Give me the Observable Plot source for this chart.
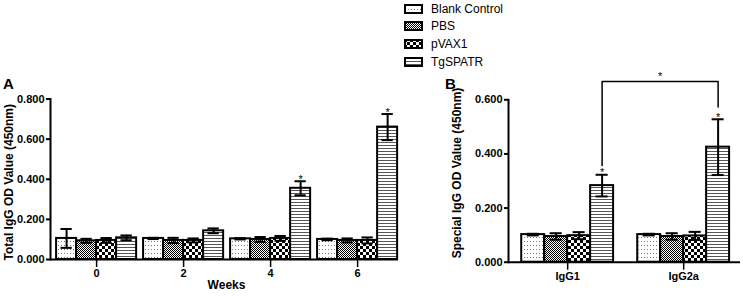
<!DOCTYPE html>
<html><head><meta charset="utf-8">
<script src="https://cdn.jsdelivr.net/npm/d3@7"></script>
<script src="https://cdn.jsdelivr.net/npm/@observablehq/plot@0.6"></script>
<style>
html,body{margin:0;padding:0;background:#fff;}
#root{position:relative;width:743px;height:297px;font-family:"Liberation Sans",Arial,sans-serif;overflow:hidden;color:#000;}
#root > .abs{position:absolute;}
.panel-letter{font-weight:bold;font-size:15px;line-height:1;z-index:3;}
.leg-row{position:absolute;display:flex;align-items:center;font-size:12px;white-space:nowrap;z-index:3;}
</style></head><body>
<svg width="0" height="0" style="position:absolute">
<defs>
<pattern id="pat-blank" width="3" height="4" patternUnits="userSpaceOnUse"><rect width="3" height="4" fill="#fff"/><rect x="1" y="1" width="1" height="1" fill="#777"/></pattern>
<pattern id="pat-pbs" width="2" height="2" patternUnits="userSpaceOnUse"><rect width="2" height="2" fill="#fff"/><rect width="1" height="1" fill="#000"/><rect x="1" y="1" width="1" height="1" fill="#000"/></pattern>
<pattern id="pat-pvax" width="6" height="6" patternUnits="userSpaceOnUse"><rect width="6" height="6" fill="#fff"/><rect width="3" height="3" fill="#000"/><rect x="3" y="3" width="3" height="3" fill="#000"/></pattern>
<pattern id="pat-tg" width="4" height="3" patternUnits="userSpaceOnUse"><rect width="4" height="3" fill="#fff"/><rect y="1" width="4" height="1" fill="#555"/></pattern>
</defs></svg>
<div id="root"></div>
<script>
// ---------- data ----------
const series = ["Blank Control", "PBS", "pVAX1", "TgSPATR"];

// Panel A: Total IgG by week
const weeks = ["0", "2", "4", "6"];
const blankA = [0.105, 0.105, 0.103, 0.100];
const pbsA   = [0.093, 0.095, 0.100, 0.095];
const pvaxA  = [0.095, 0.095, 0.105, 0.095];
const tgA    = [0.108, 0.143, 0.355, 0.660];
const blankAErr = [0.047, 0.003, 0.003, 0.004];
const pbsAErr   = [0.010, 0.013, 0.012, 0.010];
const pvaxAErr  = [0.012, 0.010, 0.012, 0.015];
const tgAErr    = [0.012, 0.012, 0.035, 0.065];
const sigA = ["", "", "*", "*"];
const yTicksA = [0, 0.2, 0.4, 0.6, 0.8];

// Panel B: IgG subclasses
const subclasses = ["IgG1", "IgG2a"];
const blankB = [0.102, 0.102];
const pbsB   = [0.095, 0.095];
const pvaxB  = [0.098, 0.097];
const tgB    = [0.283, 0.425];
const blankBErr = [0.003, 0.003];
const pbsBErr   = [0.012, 0.012];
const pvaxBErr  = [0.013, 0.015];
const tgBErr    = [0.040, 0.103];
const sigB = ["*", "*"];
const yTicksB = [0, 0.2, 0.4, 0.6];
const bracketY = [0.357, 0.668, 0.668, 0.573]; // IgG1 vs IgG2a comparison
const bracketSig = "*";

// ---------- styles ----------
const patternUrls = ["url(#pat-blank)", "url(#pat-pbs)", "url(#pat-pvax)", "url(#pat-tg)"];
const FONT = '"Liberation Sans", Arial, sans-serif';

function tidy(groups, means, errs, sig) {
  return groups.flatMap((g, gi) => series.map((s, si) => ({
    g: gi, si, series: s, mean: means[si][gi], err: errs[si][gi],
    sig: si === series.length - 1 ? sig[gi] : ""
  })));
}

function panel({rows, groups, xDomain, yDomain, yTicks, bw, cap, width, marginLeft, marginRight, marginTop, marginBottom, title, titleDx, titleDy, xLabel, extra = []}) {
  const cx = d => d.g + (d.si - (series.length - 1) / 2) * bw;
  return Plot.plot({
    width, height: 297, marginLeft, marginRight, marginTop, marginBottom,
    style: {fontFamily: FONT, fontSize: "11px", fontWeight: "bold", color: "#000", background: "transparent", overflow: "visible"},
    x: {domain: xDomain, axis: null},
    y: {domain: yDomain, axis: null},
    color: {domain: series, range: patternUrls},
    marks: [
      Plot.rect(rows, {x1: d => cx(d) - bw / 2, x2: d => cx(d) + bw / 2, y1: () => 0, y2: "mean", fill: "series", stroke: "#000", strokeWidth: 2}),
      Plot.ruleX(rows, {x: cx, y1: d => d.mean - d.err, y2: d => d.mean + d.err, stroke: "#000", strokeWidth: 2}),
      Plot.ruleY(rows, {y: d => d.mean + d.err, x1: d => cx(d) - cap, x2: d => cx(d) + cap, stroke: "#000", strokeWidth: 2}),
      Plot.ruleY(rows, {y: d => d.mean - d.err, x1: d => cx(d) - cap, x2: d => cx(d) + cap, stroke: "#000", strokeWidth: 2}),
      Plot.text(rows.filter(d => d.sig), {x: cx, y: d => d.mean + d.err, text: "sig", dy: -2, fontSize: 11, fontWeight: "normal"}),
      Plot.ruleY([0], {stroke: "#000", strokeWidth: 2}),
      Plot.frame({anchor: "left", stroke: "#000", strokeWidth: 2}),
      Plot.axisY({ticks: yTicks, tickFormat: d3.format(".3f"), tickSize: 4, tickPadding: 2, label: null, strokeWidth: 2}),
      Plot.axisX({ticks: d3.range(groups.length), tickFormat: i => groups[i], tickSize: 8, tickPadding: 2, label: null, strokeWidth: 1.5}),
      Plot.text([title], {frameAnchor: "left", textAnchor: "middle", rotate: -90, dx: titleDx, dy: titleDy, fontSize: 12}),
      ...(xLabel ? [Plot.text([xLabel], {frameAnchor: "bottom", textAnchor: "middle", dx: 2, dy: 29, fontSize: 12})] : []),
      ...extra.map(f => f(cx))
    ]
  });
}

const root = document.getElementById("root");

// Panel A
const rowsA = tidy(weeks, [blankA, pbsA, pvaxA, tgA], [blankAErr, pbsAErr, pvaxAErr, tgAErr], sigA);
const svgA = panel({
  rows: rowsA, groups: weeks, xDomain: [-0.53, 3.47], yDomain: [0, 0.8], yTicks: yTicksA,
  bw: 0.23, cap: 0.065, width: 400, marginLeft: 50, marginRight: 2, marginTop: 98.5, marginBottom: 38,
  title: "Total IgG OD Value (450nm)", titleDx: -41, titleDy: 3, xLabel: "Weeks"
});
svgA.classList.add("abs"); svgA.style.left = "0px"; svgA.style.top = "0px";
root.appendChild(svgA);

// Panel B
const rowsB = tidy(subclasses, [blankB, pbsB, pvaxB, tgB], [blankBErr, pbsBErr, pvaxBErr, tgBErr], sigB);
const bwB = 0.198;
const tgIdx = series.length - 1;
const bracketRows = [0, 0, 1, 1].map((g, i) => ({g, si: tgIdx, y: bracketY[i]}));
const svgB = panel({
  rows: rowsB, groups: subclasses, xDomain: [-0.51, 1.49], yDomain: [0, 0.6], yTicks: yTicksB,
  bw: bwB, cap: 0.052, width: 343, marginLeft: 108, marginRight: 3, marginTop: 99.3, marginBottom: 35.3,
  title: "Special IgG OD Value (450nm)", titleDx: -51.5, titleDy: -8, xLabel: null,
  extra: [
    cx => Plot.line(bracketRows, {x: cx, y: "y", stroke: "#000", strokeWidth: 1.5}),
    cx => Plot.text([bracketSig], {x: () => (cx(bracketRows[1]) + cx(bracketRows[2])) / 2, y: () => bracketY[1], dy: -5, fontSize: 11, fontWeight: "normal"})
  ]
});
svgB.classList.add("abs"); svgB.style.left = "400px"; svgB.style.top = "0px";
root.appendChild(svgB);

// Panel letters
[["A", 3, 76], ["B", 445, 76]].forEach(([t, x, y]) => {
  const d = document.createElement("div");
  d.className = "abs panel-letter"; d.textContent = t;
  d.style.left = x + "px"; d.style.top = y + "px";
  root.appendChild(d);
});

// Legend
series.forEach((s, i) => {
  const row = document.createElement("div");
  row.className = "leg-row";
  row.style.left = "404px";
  row.style.top = (8.5 + i * 17.7 - 8) + "px";
  row.style.height = "16px";
  row.innerHTML = `<svg width="20" height="10" style="margin-right:7px"><rect x="1" y="1" width="17" height="8" fill="${patternUrls[i]}" stroke="#000" stroke-width="2"/></svg><span>${s}</span>`;
  root.appendChild(row);
});
</script>
</body></html>
